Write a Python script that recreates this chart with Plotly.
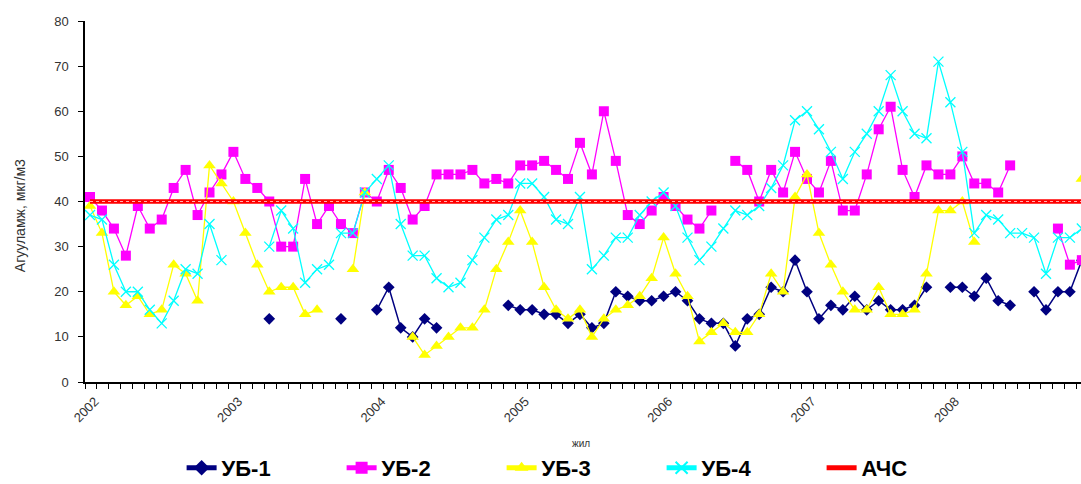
import plotly.graph_objects as go

# Monthly observations, Jan 2002 .. Dec 2008 (84 months); None = no measurement
N = None
ub1 = [N, N, N, N, N, N, N, N, N, N, N, N,
       N, N, N, 14, N, N, N, N, N, 14, N, N,
       16, 21, 12, 10, 14, 12, N, N, N, N, N, 17,
       16, 16, 15, 15, 13, 15, 12, 13, 20, 19, 18, 18,
       19, 20, 18, 14, 13, 13, 8, 14, 15, 21, 20, 27,
       20, 14, 17, 16, 19, 16, 18, 16, 16, 17, 21, N,
       21, 21, 19, 23, 18, 17, N, 20, 16, 20, 20, 27]
ub2 = [41, 38, 34, 28, 39, 34, 36, 43, 47, 37, 42, 46,
       51, 45, 43, 40, 30, 30, 45, 35, 39, 35, 33, 42,
       40, 47, 43, 36, 39, 46, 46, 46, 47, 44, 45, 44,
       48, 48, 49, 47, 45, 53, 46, 60, 49, 37, 35, 38,
       41, 39, 36, 34, 38, N, 49, 47, 40, 47, 42, 51,
       45, 42, 49, 38, 38, 46, 56, 61, 47, 41, 48, 46,
       46, 50, 44, 44, 42, 48, N, N, N, 34, 26, 27]
ub3 = [39, 33, 20, 17, 19, 15, 16, 26, 24, 18, 48, 44,
       40, 33, 26, 20, 21, 21, 15, 16, N, N, 25, 42,
       N, N, N, 10, 6, 8, 10, 12, 12, 16, 25, 31,
       38, 31, 21, 16, 14, 16, 10, 14, 16, 17, 19, 23,
       32, 24, 19, 9, 11, 13, 11, 11, 15, 24, 20, 41,
       46, 33, 26, 20, 16, 16, 21, 15, 15, 16, 24, 38,
       38, 40, 31, N, N, N, N, N, N, N, N, 45]
ub4 = [37, 36, 26, 20, 20, 16, 13, 18, 25, 24, 35, 27,
       N, N, N, 30, 38, 34, 22, 25, 26, 33, 33, 42,
       45, 48, 35, 28, 28, 23, 21, 22, 27, 32, 36, 37,
       44, 44, 41, 36, 35, 41, 25, 28, 32, 32, 37, 40,
       42, 39, 32, 27, 30, 34, 38, 37, 39, 43, 48, 58,
       60, 56, 51, 45, 51, 55, 60, 68, 60, 55, 54, 71,
       62, 51, 33, 37, 36, 33, 33, 32, 24, 32, 32, 34]
achs = [40] * 84

years = [2002, 2003, 2004, 2005, 2006, 2007, 2008]

# month index on the axis; samples sit a little after the start of each month
months = list(range(84))
xs = [m + 0.42 for m in months]

fig = go.Figure()

fig.add_trace(go.Scatter(
    x=xs, y=ub1, name="УБ-1", mode="lines+markers",
    line=dict(color="#000080", width=1.5),
    marker=dict(symbol="diamond", size=9, color="#000080")))
fig.add_trace(go.Scatter(
    x=xs, y=ub2, name="УБ-2", mode="lines+markers",
    line=dict(color="#FF00FF", width=1.3),
    marker=dict(symbol="square", size=10, color="#FF00FF")))
fig.add_trace(go.Scatter(
    x=xs, y=ub3, name="УБ-3", mode="lines+markers",
    line=dict(color="#FFFF00", width=1.3),
    marker=dict(symbol="triangle-up", size=11, color="#FFFF00")))
fig.add_trace(go.Scatter(
    x=xs, y=ub4, name="УБ-4", mode="lines+markers",
    line=dict(color="#00FFFF", width=1.3),
    marker=dict(symbol="x-thin", size=10, color="#00FFFF",
                line=dict(color="#00FFFF", width=1.3))))
fig.add_trace(go.Scatter(
    x=xs, y=achs, name="АЧС", mode="lines",
    line=dict(color="#FF0000", width=4.5)))
# light dotted core of the limit line
fig.add_trace(go.Scatter(
    x=xs, y=achs, mode="lines", showlegend=False, hoverinfo="skip",
    line=dict(color="rgba(255,225,225,0.8)", width=1, dash="dot")))

tickvals = months
ticktext = [str(years[m // 12]) if m % 12 == 0 else "" for m in months]

fig.update_xaxes(
    range=[0, 83.35], tickmode="array", tickvals=tickvals, ticktext=ticktext,
    tickangle=-45, ticks="outside", ticklen=5, tickwidth=1, tickcolor="black",
    showline=True, linecolor="black", linewidth=1.5, showgrid=False,
    zeroline=False, ticklabelshift=10, automargin=False,
    tickfont=dict(family="Liberation Sans, Arial, sans-serif", size=13, color="#333333"))
fig.update_yaxes(
    range=[0, 80], tickvals=[0, 10, 20, 30, 40, 50, 60, 70, 80],
    ticks="outside", ticklen=5, tickwidth=1, tickcolor="black",
    showline=True, linecolor="black", linewidth=1.5, showgrid=False,
    zeroline=False, ticklabelstandoff=7, automargin=False,
    tickfont=dict(family="Liberation Sans, Arial, sans-serif", size=13, color="#333333"))

fig.add_annotation(
    text="Агууламж, мкг/м3", textangle=-90, showarrow=False,
    xref="paper", yref="paper", x=-0.065, y=0.46, xanchor="center", yanchor="middle",
    font=dict(family="Liberation Sans, Arial, sans-serif", size=14, color="#333333"))
fig.add_annotation(
    text="жил", showarrow=False,
    xref="paper", yref="paper", x=0.498, y=-0.169, xanchor="center", yanchor="middle",
    font=dict(family="Liberation Sans, Arial, sans-serif", size=10, color="#333333"))

fig.update_layout(
    width=1081, height=484,
    margin=dict(l=85, r=0, t=21, b=102, autoexpand=False),
    plot_bgcolor="white", paper_bgcolor="white",
    showlegend=True,
    legend=dict(
        orientation="h", x=0.097, y=-0.238, xanchor="left", yanchor="middle",
        entrywidth=115, entrywidthmode="pixels", itemsizing="constant",
        font=dict(family="Liberation Sans, Arial, sans-serif",
                  size=22, color="black", weight="bold"),
        bgcolor="rgba(0,0,0,0)"),
)

fig.write_html("out.html")
